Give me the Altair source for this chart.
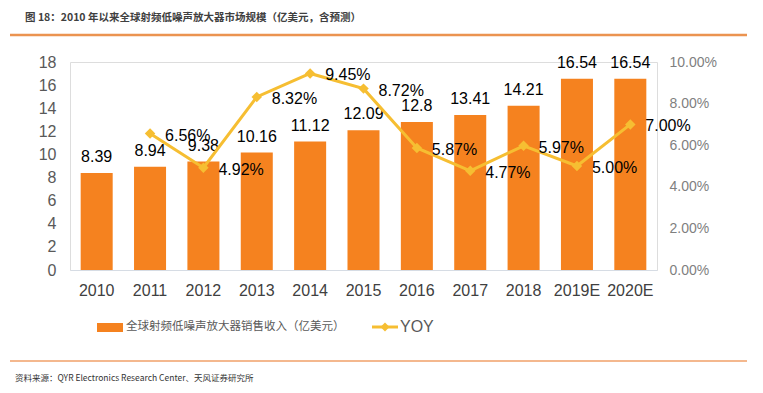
import altair as alt
import pandas as pd

years = ["2010", "2011", "2012", "2013", "2014", "2015", "2016", "2017", "2018", "2019E", "2020E"]
revenue = [8.39, 8.94, 9.38, 10.16, 11.12, 12.09, 12.8, 13.41, 14.21, 16.54, 16.54]
yoy = [None, 0.0656, 0.0492, 0.0832, 0.0945, 0.0872, 0.0587, 0.0477, 0.0597, 0.0500, 0.0700]
left_ticks = [0, 2, 4, 6, 8, 10, 12, 14, 16, 18]
right_ticks = [0, 0.02, 0.04, 0.06, 0.08, 0.10]

title_text = "图 18：2010 年以来全球射频低噪声放大器市场规模（亿美元，含预测）"
legend_bar = "全球射频低噪声放大器销售收入（亿美元）"
legend_line = "YOY"
source_text = "资料来源：QYR Electronics Research Center、天风证券研究所"

FONT = "Liberation Sans, Noto Sans CJK SC, sans-serif"
CJK = "Noto Sans CJK SC, sans-serif"
BAR = "#F5821F"
LINE = "#F6BE32"

df = pd.DataFrame({"year": years, "revenue": revenue, "yoy": yoy})
dummy = pd.DataFrame({"a": [0]})

base = alt.Chart(df)
xaxis = alt.Axis(labelAngle=0, labelFontSize=16, labelColor="#404040",
                 labelFont=FONT, ticks=False, domainColor="#D6DCE4",
                 labelPadding=12, labelOverlap=False)
xenc = alt.X("year:N", sort=years, title=None,
             scale=alt.Scale(paddingInner=0.4, paddingOuter=0.2), axis=xaxis)

laxis = alt.Axis(values=left_ticks, grid=False, domain=False, tickCount=10,
                 ticks=False, labelFontSize=16, labelColor="#595959",
                 labelFont=FONT, labelPadding=14, labelOverlap=False)
lenc = alt.Y("revenue:Q", title=None, scale=alt.Scale(domain=[0, 18], nice=False),
             axis=laxis)

bars = base.mark_bar(color=BAR).encode(x=xenc, y=lenc)
bar_text = base.mark_text(baseline="bottom", dy=-8, fontSize=16, font=FONT,
                          color="#000000").encode(
    x=xenc, y=lenc, text=alt.Text("revenue:Q"))
left = alt.layer(bars, bar_text)

raxis = alt.Axis(orient="right", format=".2%", values=right_ticks,
                 grid=False, domain=False, ticks=False, labelFontSize=14,
                 labelColor="#7F7F7F", labelFont=FONT, labelPadding=12,
                 labelOverlap=False)
renc = alt.Y("yoy:Q", title=None, scale=alt.Scale(domain=[0, 0.1]), axis=raxis)
lbase = base.transform_filter("datum.yoy != null")
line = lbase.mark_line(color=LINE, strokeWidth=3).encode(x=xenc, y=renc)
pts = lbase.mark_point(shape="diamond", filled=True, size=110, color=LINE,
                       opacity=1).encode(x=xenc, y=renc)
yoy_text = lbase.mark_text(align="left", dx=15, dy=2, fontSize=16, font=FONT,
                           color="#000000").encode(
    x=xenc, y=renc, text=alt.Text("yoy:Q", format=".2%"))
right = alt.layer(line, pts, yoy_text)

d = alt.Chart(dummy)
title = d.mark_text(align="left", baseline="middle", fontSize=10.5, fontWeight="bold",
                    font=CJK, color="#404040").encode(
    x=alt.value(-45), y=alt.value(-44), text=alt.value(title_text))
top_rule = d.mark_rule(color="#EB9350", strokeWidth=2.5).encode(
    x=alt.value(-60), x2=alt.value(687), y=alt.value(-27))
bot_rule = d.mark_rule(color="#F0A068", strokeWidth=1.5).encode(
    x=alt.value(-60), x2=alt.value(687), y=alt.value(299))
source = d.mark_text(align="left", baseline="middle", fontSize=8.5, font=CJK,
                     color="#333333").encode(
    x=alt.value(-55), y=alt.value(316), text=alt.value(source_text))
leg_rect = d.mark_rect(color=BAR).encode(
    x=alt.value(27), x2=alt.value(53), y=alt.value(261), y2=alt.value(270))
leg_text = d.mark_text(align="left", baseline="middle", fontSize=11.5, font=CJK,
                       color="#595959").encode(
    x=alt.value(56), y=alt.value(265), text=alt.value(legend_bar))
leg_line = d.mark_rule(color=LINE, strokeWidth=3).encode(
    x=alt.value(302), x2=alt.value(328), y=alt.value(265))
leg_pt = d.mark_point(shape="diamond", filled=True, size=80, color=LINE, opacity=1).encode(
    x=alt.value(315), y=alt.value(265))
leg_text2 = d.mark_text(align="left", baseline="middle", fontSize=16, font=FONT,
                        color="#595959").encode(
    x=alt.value(330), y=alt.value(265), text=alt.value(legend_line))

chart = alt.layer(
    left, right, title, top_rule, bot_rule, source, leg_rect, leg_text,
    leg_line, leg_pt, leg_text2
).resolve_scale(y="independent").properties(
    width=587, height=208,
    autosize=alt.AutoSizeParams(type="none"),
    padding={"left": 62, "top": 54, "right": 90, "bottom": 113},
).configure_view(stroke=None).configure(background="white")

chart.save("out.html", embed_options={"renderer": "svg", "actions": False})
